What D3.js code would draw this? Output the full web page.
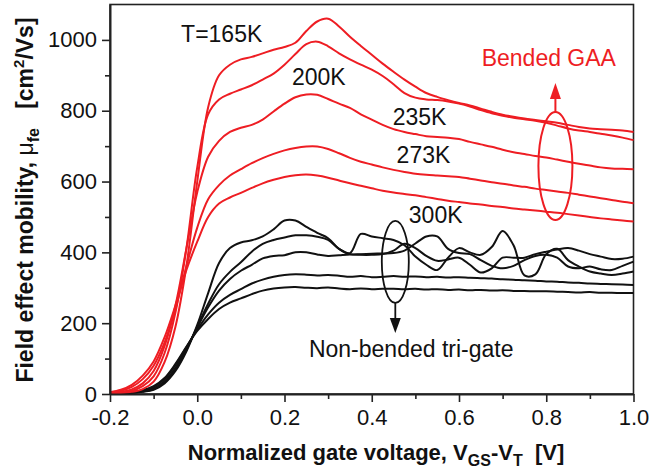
<!DOCTYPE html>
<html>
<head>
<meta charset="utf-8">
<script src="https://cdn.jsdelivr.net/npm/d3@7"></script>
<style>
    body { margin: 0; background: #fff; }
    svg { font-family: "Liberation Sans", Arial, sans-serif; }
</style>
</head>
<body>
<div id="chart"></div>
<script>
// Gate voltage grid (V_GS - V_T) [V]
const vgs = [-0.2, -0.175, -0.15, -0.125, -0.1, -0.075, -0.05, -0.025, 0,
    0.025, 0.05, 0.075, 0.1, 0.125, 0.15, 0.175, 0.2,
    0.225, 0.25, 0.275, 0.3, 0.325, 0.35, 0.375, 0.4,
    0.425, 0.45, 0.475, 0.5, 0.525, 0.55, 0.575, 0.6,
    0.625, 0.65, 0.675, 0.7, 0.725, 0.75, 0.775, 0.8,
    0.825, 0.85, 0.875, 0.9, 0.925, 0.95, 0.975, 1.0];

// Bended GAA (red), mobility [cm2/Vs]
const red165 = [2, 3, 6, 14, 35, 90, 190, 360, 600,
    810, 900, 930, 945, 952, 962, 972, 980,
    992, 1025, 1052, 1060, 1038, 1009, 983, 958,
    933, 910, 888, 868, 850, 839, 830, 822,
    815, 806, 797, 789, 783, 778, 774, 770,
    766, 760, 754, 750, 748, 746, 744, 740];
const red200 = [2, 4, 9, 22, 50, 115, 230, 410, 640,
    790, 832, 848, 860, 872, 888, 905, 930,
    960, 988, 995, 982, 962, 945, 930, 916,
    898, 875, 850, 837, 832, 830, 826, 820,
    812, 802, 793, 786, 780, 776, 772, 766,
    758, 750, 744, 740, 735, 730, 724, 717];
const red235 = [3, 6, 13, 30, 65, 135, 250, 410, 570,
    670, 715, 740, 752, 760, 775, 798, 820,
    838, 846, 845, 833, 820, 808, 790, 775,
    760, 748, 740, 734, 728, 726, 724, 720,
    712, 705, 698, 690, 683, 678, 672, 668,
    662, 656, 650, 645, 640, 637, 636, 635];
const red273 = [4, 9, 20, 42, 80, 145, 240, 360, 470,
    550, 590, 617, 635, 652, 666, 678, 688,
    695, 699, 699, 692, 680, 667, 656, 648,
    640, 633, 627, 622, 619, 617, 615, 613,
    608, 603, 598, 594, 589, 585, 580, 576,
    572, 568, 563, 558, 553, 548, 543, 539];
const red300 = [5, 12, 26, 52, 92, 160, 250, 350, 430,
    500, 538, 555, 568, 582, 595, 605, 613,
    618, 620, 617, 611, 603, 595, 588, 581,
    574, 569, 565, 561, 556, 551, 546, 542,
    538, 535, 531, 528, 524, 521, 518, 515,
    512, 508, 504, 500, 496, 493, 490, 487];

// Non-bended tri-gate (black)
const blk1 = [1, 2, 3, 6, 12, 30, 65, 120, 195,
    285, 370, 412, 428, 434, 445, 465, 490,
    490, 472, 455, 440, 410, 398, 452, 445,
    440, 435, 420, 388, 365, 350, 385, 412,
    400, 393, 415, 460, 420, 335, 338, 395,
    410, 378, 360, 346, 340, 336, 340, 346];
const blk2 = [1, 2, 4, 7, 14, 33, 70, 125, 190,
    255, 310, 345, 372, 402, 424, 435, 442,
    448, 448, 444, 435, 410, 395, 393, 393,
    395, 405, 424, 412, 390, 376, 380, 385,
    365, 343, 355, 385, 385, 385, 395, 402,
    408, 412, 405, 395, 388, 381, 382, 388];
const blk3 = [1, 2, 4, 8, 16, 36, 74, 128, 188,
    245, 292, 325, 348, 365, 383, 390, 392,
    400, 400, 394, 390, 392, 394, 395, 396,
    397, 398, 405, 425, 445, 445, 410, 398,
    395, 378, 362, 355, 362, 378, 390, 393,
    385, 360, 355, 360, 352, 350, 362, 374];
const blk4 = [2, 3, 5, 10, 20, 42, 82, 132, 182,
    225, 258, 280, 296, 312, 323, 331, 336,
    338, 337, 335, 336, 334, 331, 333, 330,
    331, 333, 331, 332, 330, 331, 329, 330,
    328, 327, 326, 324, 323, 321, 320, 318,
    317, 315, 314, 312, 311, 310, 309, 308];
const blk5 = [2, 3, 6, 11, 22, 45, 85, 133, 178,
    212, 240, 258, 270, 282, 292, 298, 301,
    302, 300, 299, 301, 298, 296, 298, 296,
    297, 297, 296, 297, 295, 296, 294, 295,
    293, 294, 292, 293, 291, 291, 290, 290,
    289, 288, 287, 288, 286, 286, 285, 285];

// Ticks
const xTicks = [-0.2, 0, 0.2, 0.4, 0.6, 0.8, 1.0];
const xMinor = [-0.1, 0.1, 0.3, 0.5, 0.7, 0.9];
const yTicks = [0, 200, 400, 600, 800, 1000];
const yMinor = [100, 300, 500, 700, 900];

// Temperature labels
const tempLabels = ["T=165K", "200K", "235K", "273K", "300K"];
const tempPos = [[-0.037, 994], [0.217, 873], [0.448, 760], [0.457, 652], [0.485, 483]];

const red = "#ee1d23";
const W = 651, H = 469;

const svg = d3.select("#chart").append("svg")
    .attr("width", W)
    .attr("height", H);

const x = d3.scaleLinear().domain([-0.2, 1.0]).range([110, 633.5]);
const y = d3.scaleLinear().domain([0, 1100]).range([394, 4.5]);

// Frame
svg.append("rect")
    .attr("x", x(-0.2)).attr("y", y(1100))
    .attr("width", x(1.0) - x(-0.2))
    .attr("height", y(0) - y(1100))
    .attr("fill", "none")
    .attr("stroke", "#222")
    .attr("stroke-width", 1.6);

// Curves
const line = d3.line()
    .x((d, i) => x(vgs[i]))
    .y(d => y(d))
    .curve(d3.curveCatmullRom.alpha(0.5));

svg.append("g").selectAll("path")
    .data([blk1, blk2, blk3, blk4, blk5])
    .join("path")
    .attr("fill", "none")
    .attr("stroke", "#111")
    .attr("stroke-width", 2)
    .attr("d", line);

svg.append("g").selectAll("path")
    .data([red165, red200, red235, red273, red300])
    .join("path")
    .attr("fill", "none")
    .attr("stroke", red)
    .attr("stroke-width", 2)
    .attr("d", line);

// Axes
svg.append("g")
    .attr("transform", `translate(0,${y(0)})`)
    .call(d3.axisBottom(x).tickValues(xTicks).tickSize(8).tickSizeOuter(0)
        .tickPadding(7).tickFormat(d => d.toFixed(1)));
svg.append("g")
    .attr("transform", `translate(0,${y(0)})`)
    .call(d3.axisBottom(x).tickValues(xMinor).tickSize(5).tickSizeOuter(0).tickFormat(""))
    .select(".domain").remove();

svg.append("g")
    .attr("transform", `translate(${x(-0.2)},0)`)
    .call(d3.axisLeft(y).tickValues(yTicks).tickSize(8).tickSizeOuter(0)
        .tickPadding(5).tickFormat(d => String(d)));
svg.append("g")
    .attr("transform", `translate(${x(-0.2)},0)`)
    .call(d3.axisLeft(y).tickValues(yMinor).tickSize(5).tickSizeOuter(0).tickFormat(""))
    .select(".domain").remove();

svg.selectAll(".domain").attr("stroke", "#222").attr("stroke-width", 2);
svg.selectAll(".tick line").attr("stroke", "#222").attr("stroke-width", 1.6);
svg.selectAll(".tick text")
    .attr("font-family", "Liberation Sans, Arial, sans-serif")
    .attr("font-size", 22)
    .attr("fill", "#111");

// Axis titles
const xt = svg.append("text")
    .attr("x", 376)
    .attr("y", 460)
    .attr("text-anchor", "middle")
    .attr("font-size", 22)
    .attr("font-weight", "bold")
    .attr("fill", "#111")
    .style("white-space", "pre");
xt.append("tspan").text("Normalized gate voltage, V");
xt.append("tspan").attr("font-size", 16).attr("dy", 6).text("GS");
xt.append("tspan").attr("dy", -6).text("-V");
xt.append("tspan").attr("font-size", 16).attr("dy", 6).text("T");
xt.append("tspan").attr("dy", -6).text("  [V]");

const yt = svg.append("text")
    .attr("transform", "translate(33,200) rotate(-90)")
    .attr("text-anchor", "middle")
    .attr("font-size", 23)
    .attr("font-weight", "bold")
    .attr("fill", "#111")
    .style("white-space", "pre");
yt.append("tspan").text("Field effect mobility, ");
yt.append("tspan").attr("font-weight", "normal").text("\u03bc");
yt.append("tspan").attr("font-size", 16).attr("dy", 6).text("fe");
yt.append("tspan").attr("dy", -6).text("   [cm");
yt.append("tspan").attr("font-size", 15).attr("dy", -9).text("2");
yt.append("tspan").attr("dy", 9).text("/Vs]");

// Temperature labels
svg.append("g").selectAll("text")
    .data(tempLabels)
    .join("text")
    .attr("x", (d, i) => x(tempPos[i][0]))
    .attr("y", (d, i) => y(tempPos[i][1]))
    .attr("font-size", 23)
    .attr("fill", "#111")
    .text(d => d);

// Bended GAA annotation
svg.append("text")
    .attr("x", x(0.652)).attr("y", y(927))
    .attr("font-size", 23)
    .attr("fill", red)
    .text("Bended GAA");

svg.append("ellipse")
    .attr("cx", x(0.821)).attr("cy", y(644))
    .attr("rx", 17).attr("ry", 54)
    .attr("fill", "none").attr("stroke", red).attr("stroke-width", 2);

const redTop = y(644) - 54, redTip = y(878);
svg.append("line")
    .attr("x1", x(0.821)).attr("x2", x(0.821))
    .attr("y1", redTop).attr("y2", redTip + 12)
    .attr("stroke", red).attr("stroke-width", 2);
svg.append("path")
    .attr("d", `M${x(0.821)},${redTip} l-5.5,16 h11 z`)
    .attr("fill", red);

// Non-bended tri-gate annotation
svg.append("text")
    .attr("x", x(0.256)).attr("y", y(105))
    .attr("font-size", 23)
    .attr("fill", "#111")
    .text("Non-bended tri-gate");

svg.append("ellipse")
    .attr("cx", x(0.454)).attr("cy", y(373))
    .attr("rx", 13.5).attr("ry", 41)
    .attr("fill", "none").attr("stroke", "#111").attr("stroke-width", 1.8);

const blkBot = y(373) + 41, blkTip = y(172);
svg.append("line")
    .attr("x1", x(0.454)).attr("x2", x(0.454))
    .attr("y1", blkBot).attr("y2", blkTip - 12)
    .attr("stroke", "#111").attr("stroke-width", 1.8);
svg.append("path")
    .attr("d", `M${x(0.454)},${blkTip} l-5.5,-15 h11 z`)
    .attr("fill", "#111");
</script>
</body>
</html>
